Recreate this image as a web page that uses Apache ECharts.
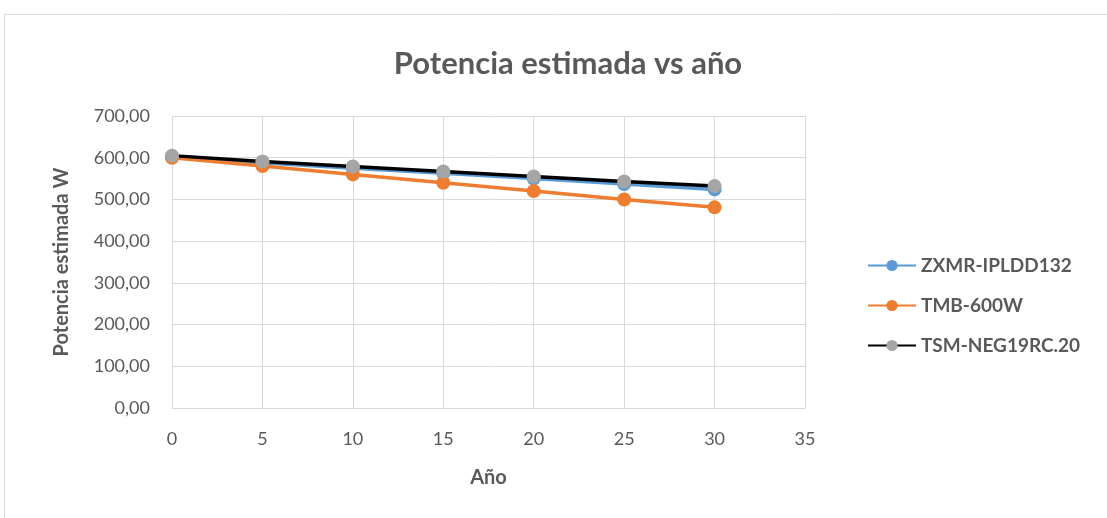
<!DOCTYPE html>
<html>
<head>
<meta charset="utf-8">
<script src="https://cdn.jsdelivr.net/npm/echarts@6/dist/echarts.min.js"></script>
<style>
  html, body { margin: 0; padding: 0; background: #fff; }
  #chart { width: 1107px; height: 518px; }
</style>
</head>
<body>
<div id="chart"></div>
<script>
// years on x axis
const years = [0, 5, 10, 15, 20, 25, 30];
// estimated power (W)
const zxmr = [602, 588, 575, 563, 550, 537, 524];
const tmb = [600, 580, 560, 540, 520, 500, 481];
const tsm = [605, 591, 579, 567, 555, 543, 532];
const seriesNames = ["ZXMR-IPLDD132", "TMB-600W", "TSM-NEG19RC.20"];

const font = "Lato";
const textColor = "#595959";
const chart = echarts.init(document.getElementById("chart"));

function pairs(vals) {
  return years.map((y, i) => [y, vals[i]]);
}

function lineSeries(name, vals, lineColor, markColor) {
  return {
    name: name,
    type: "line",
    data: pairs(vals),
    symbol: "circle",
    symbolSize: 14,
    lineStyle: { color: lineColor, width: 3.5 },
    itemStyle: { color: markColor },
    animation: false
  };
}

var option = {
  textStyle: { fontFamily: font },
  graphic: [{
    type: "rect",
    shape: { x: 4.5, y: 14.5, width: 1110, height: 520 },
    style: { fill: null, stroke: "#d9d9d9", lineWidth: 1 }
  }],
  title: {
    text: "Potencia estimada vs año",
    left: 563,
    textAlign: "center",
    top: 43,
    textStyle: { fontFamily: font, fontSize: 31, fontWeight: "bold", color: textColor }
  },
  grid: { left: 172, right: 302, top: 116, bottom: 110 },
  legend: {
    orient: "vertical",
    left: 862,
    top: 251,
    itemGap: 21,
    itemWidth: 48,
    itemHeight: 14,
    data: seriesNames,
    textStyle: { fontFamily: font, fontSize: 19, fontWeight: "bold", color: textColor }
  },
  xAxis: {
    type: "value",
    min: 0,
    max: 35,
    interval: 5,
    name: "Año",
    nameLocation: "middle",
    nameGap: 60,
    nameTextStyle: { fontFamily: font, fontSize: 20, fontWeight: "bold", color: textColor },
    axisLine: { show: true, lineStyle: { color: "#d9d9d9" } },
    axisTick: { show: false },
    axisLabel: { fontSize: 18, color: textColor, margin: 22 },
    splitLine: { show: true, lineStyle: { color: "#d9d9d9" } }
  },
  yAxis: {
    type: "value",
    min: 0,
    max: 700,
    interval: 100,
    name: "Potencia estimada W",
    nameLocation: "middle",
    nameGap: 100,
    nameTextStyle: { fontFamily: font, fontSize: 20, fontWeight: "bold", color: textColor },
    axisLine: { show: false },
    axisTick: { show: false },
    axisLabel: {
      fontSize: 18,
      color: textColor,
      margin: 22,
      formatter: v => v.toFixed(2).replace(".", ",")
    },
    splitLine: { lineStyle: { color: "#d9d9d9" } }
  },
  series: [
    lineSeries(seriesNames[0], zxmr, "#5b9bd5", "#5b9bd5"),
    lineSeries(seriesNames[1], tmb, "#ed7d31", "#ed7d31"),
    lineSeries(seriesNames[2], tsm, "#000000", "#a5a5a5")
  ]
};

chart.setOption(option);
</script>
</body>
</html>
